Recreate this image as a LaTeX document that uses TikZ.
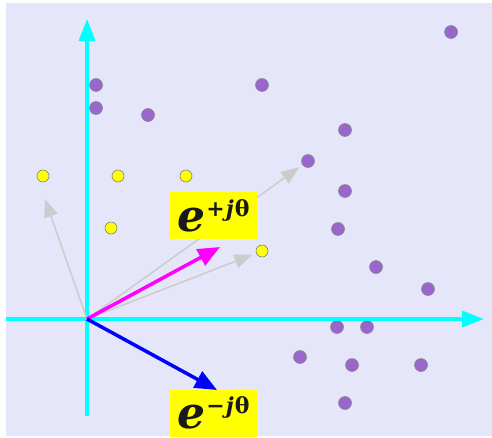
\documentclass[tikz,border=0pt]{standalone}
\usepackage{fontspec}
\setmainfont{DejaVu Serif}
\usetikzlibrary{arrows.meta}
\definecolor{lav}{RGB}{230,230,250}
\definecolor{purp}{RGB}{153,102,204}
\definecolor{axiscol}{RGB}{0,255,255}
\definecolor{grayarr}{RGB}{204,204,204}
\definecolor{magvec}{RGB}{255,0,255}
\definecolor{bluevec}{RGB}{0,0,255}
\definecolor{ylw}{RGB}{255,255,0}
\newcommand\expolabel[1]{\fontsize{44}{44}\selectfont\bfseries\itshape e\kern1pt\raisebox{15pt}{\fontsize{22}{22}\selectfont #1}}
\tikzset{
  pdot/.style={circle,fill=purp,draw=gray!90,line width=0.6pt,minimum size=13pt,inner sep=0pt},
  ydot/.style={circle,fill=ylw,draw=gray,line width=0.6pt,minimum size=12pt,inner sep=0pt},
  axisline/.style={axiscol,line width=3.5pt,-{Triangle[length=22pt,width=16pt]}},
  grayvec/.style={grayarr,line width=1.5pt,-{Triangle[length=18pt,width=14pt]}},
  mainvec/.style={line width=3.5pt,-{Triangle[length=22pt,width=18pt]}},
  labelbox/.style={fill=ylw,inner sep=0pt,minimum width=87pt,minimum height=47pt,text=black!90}
}
\begin{document}
\begin{tikzpicture}[x=1pt,y=-1pt]
\useasboundingbox (0,0) rectangle (492,437);
\fill[lav] (6,3) rectangle (492,436);
% purple dots
\foreach \n/\px/\py in {p1/451/32,p2/96/85,p3/262/85,p4/96/108,p5/148/115,p6/345/130,p7/308/161,p8/345/191,p9/338/229,p10/376/267,p11/428/289,p12/337/327,p13/367/327,p14/300/357,p15/352/365,p16/421/365,p17/345/403}
  \node[pdot] (\n) at (\px,\py) {};
% yellow dots
\foreach \n/\px/\py in {y1/43/176,y2/118/176,y3/186/176,y4/111/228,y5/262/251}
  \node[ydot] (\n) at (\px,\py) {};
% axes
\coordinate (O) at (87,319);
\coordinate (xl) at (6,319);
\coordinate (xr) at (484,319);
\coordinate (yb) at (87,416);
\coordinate (yt) at (87,19);
\draw[axisline] (xl) -- (xr);
\draw[axisline] (yb) -- (yt);
% gray vectors
\coordinate (g1) at (45,199);
\draw[grayvec] (O) -- (g1);
\draw[grayvec,shorten >=4pt] (O) -- (p7);
\draw[grayvec,shorten >=4pt] (O) -- (y5);
% labels
\node[labelbox] (lp) at (213.5,215.5) {\expolabel{{\upshape +}\kern1pt j\kern1pt{\upshape θ}}};
\node[labelbox] (lm) at (213.5,413) {\expolabel{{\upshape −}\kern1pt j\kern1pt{\upshape θ}}};
% main vectors
\coordinate (mp) at (220,247);
\coordinate (mm) at (217,390);
\draw[mainvec,magvec] (O) -- (mp);
\draw[mainvec,bluevec] (O) -- (mm);
\end{tikzpicture}
\end{document}
